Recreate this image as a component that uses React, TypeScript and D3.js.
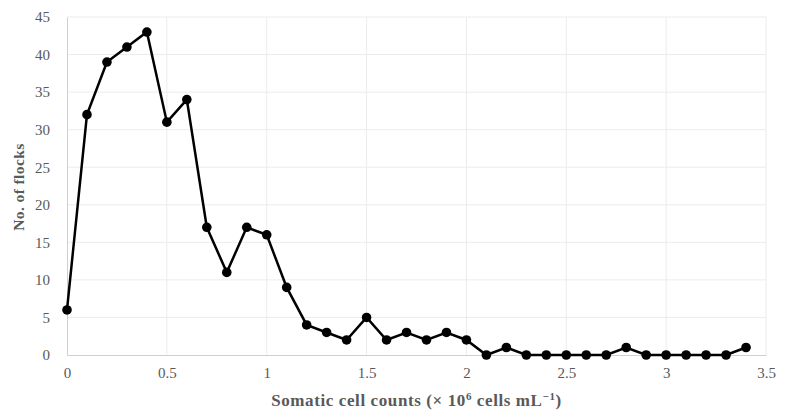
import React, { useEffect, useRef } from 'react'
import { select, scaleLinear, axisBottom, axisLeft, line, range } from 'd3'

// somatic cell count bins (x 10^6 cells/mL), 0.1 steps
const cellCounts = [
  0, 0.1, 0.2, 0.3, 0.4, 0.5, 0.6, 0.7, 0.8, 0.9,
  1.0, 1.1, 1.2, 1.3, 1.4, 1.5, 1.6, 1.7, 1.8, 1.9,
  2.0, 2.1, 2.2, 2.3, 2.4, 2.5, 2.6, 2.7, 2.8, 2.9,
  3.0, 3.1, 3.2, 3.3, 3.4
]
const flocks = [
  6, 32, 39, 41, 43, 31, 34, 17, 11, 17,
  16, 9, 4, 3, 2, 5, 2, 3, 2, 3,
  2, 0, 1, 0, 0, 0, 0, 0, 1, 0,
  0, 0, 0, 0, 1
]
const xTicks = [0, 0.5, 1, 1.5, 2, 2.5, 3, 3.5]
const yTicks = [0, 5, 10, 15, 20, 25, 30, 35, 40, 45]

const W = 786
const H = 416
const margin = { top: 17, right: 20, bottom: 61, left: 67 }
const font = '"Liberation Serif", serif'
const textColor = '#595959'

export default function App() {
  const svgRef = useRef<SVGSVGElement | null>(null)

  useEffect(() => {
    if (!svgRef.current) return
    const svg = select(svgRef.current)
    svg.selectAll('*').remove()

    const innerW = W - margin.left - margin.right
    const innerH = H - margin.top - margin.bottom

    const x = scaleLinear().domain([0, 3.5]).range([0, innerW])
    const y = scaleLinear().domain([0, 45]).range([innerH, 0])

    const g = svg.append('g').attr('transform', `translate(${margin.left},${margin.top})`)

    // grid
    g.append('g')
      .selectAll('line')
      .data(yTicks.slice(1))
      .join('line')
      .attr('x1', 0)
      .attr('x2', innerW)
      .attr('y1', d => y(d))
      .attr('y2', d => y(d))
      .attr('stroke', '#ececec')
    g.append('g')
      .selectAll('line')
      .data(xTicks.slice(1))
      .join('line')
      .attr('x1', d => x(d))
      .attr('x2', d => x(d))
      .attr('y1', 0)
      .attr('y2', innerH)
      .attr('stroke', '#ececec')

    const xAxis = g.append('g')
      .attr('transform', `translate(0,${innerH})`)
      .call(axisBottom(x).tickValues(xTicks).tickSize(0).tickPadding(12).tickFormat(d => String(d)))
    const yAxis = g.append('g')
      .call(axisLeft(y).tickValues(yTicks).tickSize(0).tickPadding(17))

    for (const ax of [xAxis, yAxis]) {
      ax.select('.domain').attr('stroke', '#cfcfcf')
      ax.selectAll('text')
        .attr('fill', textColor)
        .style('font-family', font)
        .style('font-size', '15px')
    }

    const path = line<number>()
      .x((_, i) => x(cellCounts[i]))
      .y(d => y(d))

    g.append('path')
      .datum(flocks)
      .attr('d', path)
      .attr('fill', 'none')
      .attr('stroke', '#000')
      .attr('stroke-width', 2.5)

    g.append('g')
      .selectAll('circle')
      .data(range(flocks.length))
      .join('circle')
      .attr('cx', i => x(cellCounts[i]))
      .attr('cy', i => y(flocks[i]))
      .attr('r', 4.8)
      .attr('fill', '#000')

    // axis titles
    const xt = svg.append('text')
      .attr('x', margin.left + innerW / 2)
      .attr('y', 406)
      .attr('text-anchor', 'middle')
      .attr('fill', textColor)
      .style('font-family', font)
      .style('font-size', '17px')
      .style('font-weight', 'bold')
      .style('letter-spacing', '0.6px')
    xt.append('tspan').text('Somatic cell counts (× 10')
    xt.append('tspan').attr('dy', -6).style('font-size', '11px').text('6')
    xt.append('tspan').attr('dy', 6).text(' cells mL')
    xt.append('tspan').attr('dy', -6).style('font-size', '11px').text('−1')
    xt.append('tspan').attr('dy', 6).text(')')

    svg.append('text')
      .attr('transform', `translate(24,${margin.top + innerH / 2 + 1}) rotate(-90)`)
      .attr('text-anchor', 'middle')
      .attr('fill', textColor)
      .style('font-family', font)
      .style('font-size', '15.5px')
      .style('font-weight', 'bold')
      .style('letter-spacing', '0.4px')
      .text('No. of flocks')
  }, [])

  return (
    <svg
      ref={svgRef}
      width={W}
      height={H}
      style={{ position: 'absolute', left: 0, top: 0, background: '#fff' }}
    />
  )
}
